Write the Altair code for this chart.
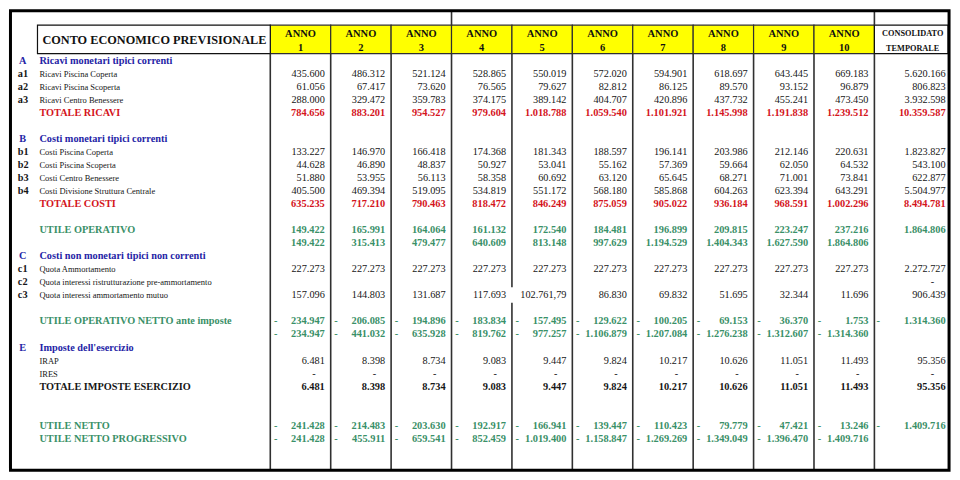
import altair as alt
import pandas as pd

# ------------------------------------------------------------------ values
anni = [1, 2, 3, 4, 5, 6, 7, 8, 9, 10]

ricavi_piscina_coperta = [435600, 486312, 521124, 528865, 550019, 572020, 594901, 618697, 643445, 669183]
ricavi_piscina_scoperta = [61056, 67417, 73620, 76565, 79627, 82812, 86125, 89570, 93152, 96879]
ricavi_centro_benessere = [288000, 329472, 359783, 374175, 389142, 404707, 420896, 437732, 455241, 473450]
totale_ricavi = [784656, 883201, 954527, 979604, 1018788, 1059540, 1101921, 1145998, 1191838, 1239512]

costi_piscina_coperta = [133227, 146970, 166418, 174368, 181343, 188597, 196141, 203986, 212146, 220631]
costi_piscina_scoperta = [44628, 46890, 48837, 50927, 53041, 55162, 57369, 59664, 62050, 64532]
costi_centro_benessere = [51880, 53955, 56113, 58358, 60692, 63120, 65645, 68271, 71001, 73841]
costi_struttura_centrale = [405500, 469394, 519095, 534819, 551172, 568180, 585868, 604263, 623394, 643291]
totale_costi = [635235, 717210, 790463, 818472, 846249, 875059, 905022, 936184, 968591, 1002296]

utile_operativo = [149422, 165991, 164064, 161132, 172540, 184481, 196899, 209815, 223247, 237216]
utile_operativo_progr = [149422, 315413, 479477, 640609, 813148, 997629, 1194529, 1404343, 1627590, 1864806]

quota_ammortamento = [227273, 227273, 227273, 227273, 227273, 227273, 227273, 227273, 227273, 227273]
quota_interessi_mutuo = [157096, 144803, 131687, 117693, 102761.79, 86830, 69832, 51695, 32344, 11696]

utile_op_netto = [-234947, -206085, -194896, -183834, -157495, -129622, -100205, -69153, -36370, -1753]
utile_op_netto_progr = [-234947, -441032, -635928, -819762, -977257, -1106879, -1207084, -1276238, -1312607, -1314360]

irap = [6481, 8398, 8734, 9083, 9447, 9824, 10217, 10626, 11051, 11493]
ires = [0, 0, 0, 0, 0, 0, 0, 0, 0, 0]
totale_imposte = [6481, 8398, 8734, 9083, 9447, 9824, 10217, 10626, 11051, 11493]

utile_netto = [-241428, -214483, -203630, -192917, -166941, -139447, -110423, -79779, -47421, -13246]
utile_netto_progr = [-241428, -455911, -659541, -852459, -1019400, -1158847, -1269269, -1349049, -1396470, -1409716]

lettere = ["A", "", "", "", "", "B", "", "", "", "", "", "", "", "C", "", "", "", "", "", "E", "", "", "", "", ""]
codici = ["", "a1", "a2", "a3", "", "", "b1", "b2", "b3", "b4", "", "", "", "", "c1", "c2", "c3", "", "", "", "", "", "", "", ""]
voci = [
    "Ricavi monetari tipici correnti", "Ricavi Piscina Coperta", "Ricavi Piscina Scoperta",
    "Ricavi Centro Benessere", "TOTALE RICAVI",
    "Costi monetari tipici correnti", "Costi Piscina Coperta", "Costi Piscina Scoperta",
    "Costi Centro Benessere", "Costi Divisione Struttura Centrale", "TOTALE COSTI",
    "UTILE OPERATIVO", "",
    "Costi non monetari tipici non correnti", "Quota Ammortamento",
    "Quota interessi ristrutturazione pre-ammortamento", "Quota interessi  ammortamento mutuo",
    "UTILE OPERATIVO NETTO ante imposte", "",
    "Imposte dell'esercizio", "IRAP", "IRES", "TOTALE IMPOSTE ESERCIZIO",
    "UTILE NETTO", "UTILE NETTO PROGRESSIVO",
]
serie = [
    None, ricavi_piscina_coperta, ricavi_piscina_scoperta, ricavi_centro_benessere, totale_ricavi,
    None, costi_piscina_coperta, costi_piscina_scoperta, costi_centro_benessere, costi_struttura_centrale, totale_costi,
    utile_operativo, utile_operativo_progr,
    None, quota_ammortamento, None, quota_interessi_mutuo,
    utile_op_netto, utile_op_netto_progr,
    None, irap, ires, totale_imposte,
    utile_netto, utile_netto_progr,
]
consolidato = [
    None, 5620166, 806823, 3932598, 10359587,
    None, 1823827, 543100, 622877, 5504977, 8494781,
    1864806, None,
    None, 2272727, 0, 906439,
    -1314360, None,
    None, 95356, 0, 95356,
    -1409716, None,
]
stili = [
    "sezione", "voce", "voce", "voce", "tot_rosso",
    "sezione", "voce", "voce", "voce", "voce", "tot_rosso",
    "utile", "utile",
    "sezione", "voce", "voce", "voce",
    "utile", "utile",
    "sezione", "voce", "voce", "tot_nero",
    "utile", "utile",
]

# ------------------------------------------------------------------ layout
posizione_riga = [0, 1, 2, 3, 4, 6, 7, 8, 9, 10, 11, 13, 14, 15, 16, 17, 18, 20, 21, 22, 23, 24, 25, 28, 29]

FONT = "Liberation Serif"
BLUE = "#2424a6"
RED = "#d4141c"
GREEN = "#3a9068"
BLACK = "#161616"
LINE = "#303030"

COL0, COL_W = 266.0, 61.5     # reference px of first year column, column width
ROW0, ROW_H = 53.3, 13.5      # reference px of first body row, row height


def cu(x):
    return (x - COL0) / COL_W


def ru(y):
    return (y - ROW0) / ROW_H


STYLE = {
    "sezione": dict(lab_color=BLUE, lab_bold=True, lab_size=10.3, num_color=BLACK, num_bold=False),
    "voce": dict(lab_color=BLACK, lab_bold=False, lab_size=8.5, num_color=BLACK, num_bold=False),
    "tot_rosso": dict(lab_color=RED, lab_bold=True, lab_size=10.3, num_color=RED, num_bold=True),
    "utile": dict(lab_color=GREEN, lab_bold=True, lab_size=10.3, num_color=GREEN, num_bold=True),
    "tot_nero": dict(lab_color=BLACK, lab_bold=True, lab_size=10.3, num_color=BLACK, num_bold=True),
}


def fmt_it(v):
    a = abs(v)
    ip = int(a)
    frac = round(a - ip, 2)
    s = f"{ip:,}".replace(",", ".")
    if frac > 0:
        s += "," + f"{frac:.2f}"[2:]
    return s


labels, cells = [], []
for slot, let, cod, voce, st_name, vals, cons in zip(
        posizione_riga, lettere, codici, voci, stili, serie, consolidato):
    st = STYLE[st_name]
    if let:
        labels.append(dict(x=cu(14), y=slot, text=let, color=BLUE, size=10.3, kind="letter"))
    if cod:
        labels.append(dict(x=cu(9), y=slot, text=cod, color=BLACK, size=10.3, kind="code"))
    if voce:
        size = st["lab_size"]
        if voce in ("IRAP", "IRES"):
            size = 8.5
        labels.append(dict(x=cu(31), y=slot, text=voce, color=st["lab_color"], size=size,
                           kind="lab_bold" if st["lab_bold"] else "lab_reg"))
    entries = []
    if vals is not None:
        for k, v in zip(anni, vals):
            entries.append((k - 6 / COL_W, (k - 1) + 5.5 / COL_W, k - 17 / COL_W, v))
    if cons is not None:
        entries.append((cu(953.5), cu(885), cu(940), cons))
    for xr, xl, xz, v in entries:
        if v == 0:
            cells.append(dict(x=xz, y=slot, text="-", color=st["num_color"], kind="zero"))
            continue
        cells.append(dict(x=xr, y=slot, text=fmt_it(v), color=st["num_color"],
                          kind="num_b" if st["num_bold"] else "num_r"))
        if v < 0:
            cells.append(dict(x=xl, y=slot, text="-", color=st["num_color"], kind="neg"))

lab_df = pd.DataFrame(labels)
cell_df = pd.DataFrame(cells)

HDR_TOP, HDR_BOT = ru(16.5), ru(46)
TOP, BOT = ru(1.5), ru(477.5)

header_df = pd.DataFrame({"x0": [k - 1 for k in anni], "x1": anni,
                          "y0": HDR_TOP, "y1": HDR_BOT})
header_txt = pd.DataFrame(
    [dict(x=k - 0.5, y=ru(26), text="ANNO") for k in anni] +
    [dict(x=k - 0.5, y=ru(40.5), text=str(k)) for k in anni])
cons_txt = pd.DataFrame([dict(x=cu(920), y=ru(26), text="CONSOLIDATO"),
                         dict(x=cu(920), y=ru(41.5), text="TEMPORALE")])
boxes = pd.DataFrame([
    dict(x0=cu(29), x1=0, y0=HDR_TOP, y1=HDR_BOT),
    dict(x0=10, x1=cu(956), y0=HDR_TOP, y1=HDR_BOT),
])

rules = []
for b in range(0, 11):
    if b == 4:
        rules.append(dict(x=b, y0=HDR_BOT, y1=ru(288)))
        rules.append(dict(x=b, y0=ru(304), y1=BOT))
    else:
        rules.append(dict(x=b, y0=HDR_BOT, y1=BOT))
rules.append(dict(x=3, y0=TOP, y1=HDR_TOP))
rules.append(dict(x=10, y0=TOP, y1=HDR_TOP))
rule_df = pd.DataFrame(rules)

xs = alt.Scale(domain=[cu(0), cu(960)], nice=False, zero=False)
ys = alt.Scale(domain=[ru(0), ru(480)], nice=False, zero=False, reverse=True)


def X(f):
    return alt.X(f, type="quantitative", scale=xs, axis=None)


def Y(f):
    return alt.Y(f, type="quantitative", scale=ys, axis=None)


yellow = alt.Chart(header_df).mark_rect(fill="#ffff00", stroke=LINE, strokeWidth=1.2).encode(
    x=X("x0"), x2="x1", y=Y("y0"), y2="y1")
white_boxes = alt.Chart(boxes).mark_rect(fill="white", stroke="#111111", strokeWidth=1.2).encode(
    x=X("x0"), x2="x1", y=Y("y0"), y2="y1")
vlines = alt.Chart(rule_df).mark_rule(color=LINE, strokeWidth=1.6).encode(
    x=X("x"), y=Y("y0"), y2="y1")
frame = alt.Chart(pd.DataFrame([dict(x0=cu(1.5), x1=cu(957), y0=TOP, y1=BOT)])).mark_rect(
    fillOpacity=0, stroke="#000000", strokeWidth=3).encode(
    x=X("x0"), x2="x1", y=Y("y0"), y2="y1")

title = alt.Chart(pd.DataFrame([dict(x=cu(148), y=ru(32.3), text="CONTO ECONOMICO PREVISIONALE")])).mark_text(
    font=FONT, fontSize=12.3, fontWeight="bold", align="center", baseline="middle", color="#111111").encode(
    x=X("x"), y=Y("y"), text="text:N")
anno_t = alt.Chart(header_txt).mark_text(
    font=FONT, fontSize=10.5, fontWeight="bold", align="center", baseline="middle", color="#111111").encode(
    x=X("x"), y=Y("y"), text="text:N")
cons_t = alt.Chart(cons_txt).mark_text(
    font=FONT, fontSize=8.3, fontWeight="bold", align="center", baseline="middle", color="#111111").encode(
    x=X("x"), y=Y("y"), text="text:N")


def lab_layer(kind, align, weight):
    return alt.Chart(lab_df[lab_df.kind == kind]).mark_text(
        font=FONT, fontWeight=weight, align=align, baseline="middle").encode(
        x=X("x"), y=Y("y"), text="text:N",
        color=alt.Color("color:N", scale=None), size=alt.Size("size:Q", scale=None))


def cell_layer(kind, align, weight, size):
    return alt.Chart(cell_df[cell_df.kind == kind]).mark_text(
        font=FONT, fontWeight=weight, align=align, baseline="middle", fontSize=size).encode(
        x=X("x"), y=Y("y"), text="text:N", color=alt.Color("color:N", scale=None))


chart = alt.layer(
    yellow, white_boxes, vlines, frame, title, anno_t, cons_t,
    lab_layer("letter", "center", "bold"),
    lab_layer("code", "left", "bold"),
    lab_layer("lab_bold", "left", "bold"),
    lab_layer("lab_reg", "left", "normal"),
    cell_layer("num_r", "right", "normal", 10.3),
    cell_layer("num_b", "right", "bold", 10.4),
    cell_layer("neg", "center", "bold", 10.4),
    cell_layer("zero", "center", "normal", 10.3),
).properties(width=944, height=464, padding=0, background="white").configure_view(strokeWidth=0)

chart.save("out.html", embed_options={"renderer": "svg", "actions": False})
